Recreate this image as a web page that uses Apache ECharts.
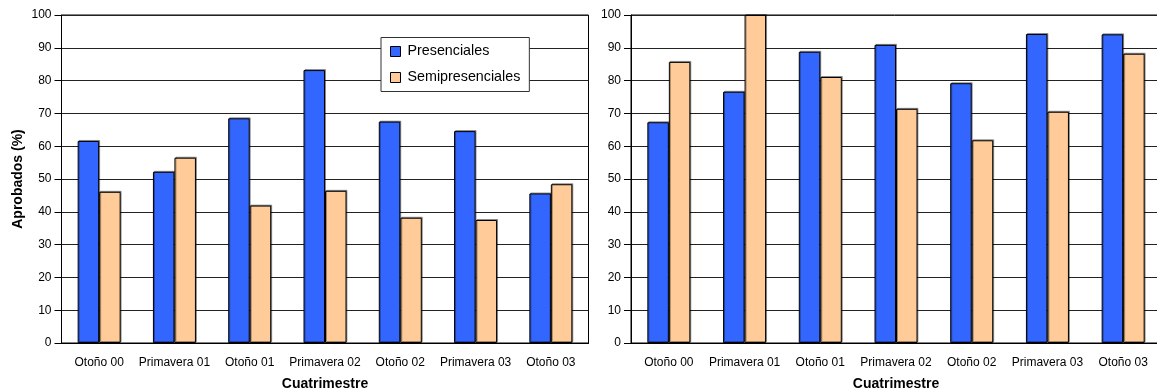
<!DOCTYPE html>
<html>
<head>
<meta charset="utf-8">
<script src="https://cdn.jsdelivr.net/npm/echarts@6/dist/echarts.min.js"></script>
<style>
  html, body { margin: 0; padding: 0; background: #fff; }
  #chart { width: 1157px; height: 391px; }
</style>
</head>
<body>
<div id="chart"></div>
<script>
// Cuatrimestres (semesters) shown on both panels
const categories = ['Otoño 00', 'Primavera 01', 'Otoño 01', 'Primavera 02', 'Otoño 02', 'Primavera 03', 'Otoño 03'];

// Left panel: % aprobados
const presencialesIzq = [61.6, 52.2, 68.5, 83.2, 67.5, 64.6, 45.6];
const semipresencialesIzq = [46.1, 56.5, 41.9, 46.4, 38.2, 37.5, 48.4];

// Right panel: % aprobados
const presencialesDer = [67.3, 76.6, 88.8, 90.9, 79.2, 94.2, 94.1];
const semipresencialesDer = [85.7, 100, 81.1, 71.4, 61.8, 70.5, 88.2];

// Value axis range
const yMin = 0, yMax = 100, yStep = 10;

const seriesNames = ['Presenciales', 'Semipresenciales'];
const colors = ['#3366FF', '#FFCC99'];

const FONT = '"Liberation Sans", Arial, sans-serif';

function xAxisFor(gridIndex) {
  return {
    type: 'category',
    gridIndex: gridIndex,
    data: categories,
    name: 'Cuatrimestre',
    nameLocation: 'middle',
    nameGap: 34,
    nameTextStyle: { fontFamily: FONT, fontSize: 14, fontWeight: 'bold', color: '#000' },
    axisLine: { lineStyle: { color: '#000', width: 1 } },
    axisTick: { show: false },
    axisLabel: { fontFamily: FONT, fontSize: 12, color: '#000', margin: 13.5, interval: 0 }
  };
}

function yAxisFor(gridIndex, withName) {
  const ax = {
    type: 'value',
    gridIndex: gridIndex,
    min: yMin, max: yMax, interval: yStep,
    axisLine: { show: true, lineStyle: { color: '#000', width: 1 } },
    axisTick: { show: true, length: 7, lineStyle: { color: '#000' } },
    axisLabel: { fontFamily: FONT, fontSize: 12, color: '#000', margin: 10 },
    splitLine: { show: true, lineStyle: { color: '#222', width: 1 } }
  };
  if (withName) {
    ax.name = 'Aprobados (%)';
    ax.nameLocation = 'middle';
    ax.nameGap = 36;
    ax.nameTextStyle = { fontFamily: FONT, fontSize: 14, fontWeight: 'bold', color: '#000' };
  }
  return ax;
}

function barSeries(name, data, color, axisIndex) {
  return {
    type: 'bar',
    name: name,
    data: data,
    xAxisIndex: axisIndex,
    yAxisIndex: axisIndex,
    barWidth: 21.5,
    barGap: '0%',
    itemStyle: {
      color: color,
      borderColor: '#000',
      borderWidth: 1,
      shadowColor: 'rgba(0,0,0,0.35)',
      shadowOffsetX: 1,
      shadowOffsetY: -1,
      shadowBlur: 0
    },
    emphasis: { disabled: true },
    animation: false
  };
}

const chart = echarts.init(document.getElementById('chart'), null, { renderer: 'canvas' });

const gridBase = {
  top: 15, height: 328, show: true,
  borderColor: '#000', borderWidth: 1, backgroundColor: 'transparent',
  containLabel: false, outerBoundsMode: 'none'
};

chart.setOption({
  backgroundColor: '#fff',
  animation: false,
  grid: [
    Object.assign({}, gridBase, { left: 61.5, width: 527 }),
    Object.assign({}, gridBase, { left: 631, width: 530 })
  ],
  legend: {
    orient: 'vertical',
    left: 381,
    top: 37.5,
    data: seriesNames,
    icon: 'rect',
    itemWidth: 10,
    itemHeight: 10,
    itemGap: 12,
    padding: [7, 9, 7, 9],
    backgroundColor: '#fff',
    borderColor: '#333',
    borderWidth: 1,
    borderRadius: 0,
    itemStyle: { borderColor: '#000', borderWidth: 1, shadowBlur: 0, shadowOffsetX: 0, shadowOffsetY: 0 },
    textStyle: { fontFamily: FONT, fontSize: 14.3, color: '#000', padding: [0, 0, 0, 2] },
    selectedMode: false
  },
  xAxis: [xAxisFor(0), xAxisFor(1)],
  yAxis: [yAxisFor(0, true), yAxisFor(1, false)],
  series: [
    barSeries(seriesNames[0], presencialesIzq, colors[0], 0),
    barSeries(seriesNames[1], semipresencialesIzq, colors[1], 0),
    barSeries(seriesNames[0], presencialesDer, colors[0], 1),
    barSeries(seriesNames[1], semipresencialesDer, colors[1], 1)
  ]
});
</script>
</body>
</html>
